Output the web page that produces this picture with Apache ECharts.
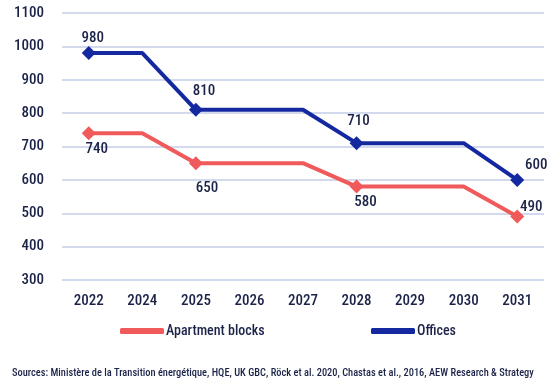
<!DOCTYPE html>
<html><head><meta charset="utf-8">
<script src="https://cdn.jsdelivr.net/npm/echarts@6/dist/echarts.min.js"></script>
<style>html,body{margin:0;padding:0;background:#fff}#c{width:560px;height:392px}</style>
</head><body><div id="c"></div>
<script>
const categories = ['2022','2024','2025','2026','2027','2028','2029','2030','2031'];
const apartments = [740,740,650,650,650,580,580,580,490];
const offices = [980,980,810,810,810,710,710,710,600];
const markedIdx = [0,2,5,8];
const yTicks = {min:300, max:1100, interval:100};
const sourceText = 'Sources: Ministère de la Transition énergétique, HQE, UK GBC, Röck et al. 2020, Chastas et al., 2016, AEW Research & Strategy';

// label offsets (layout only) relative to the marker centre, for marked points
const aptLabelOffsets = [[8,16],[11,25],[9,16],[14,-9]];
const offLabelOffsets = [[4,-15],[8,-19],[2,-22],[19,-15]];

const FONT = '"Roboto Condensed", sans-serif';
const TXT = '#1c2348';
const RED = '#f05a5a';
const BLUE = '#1428a0';
const FS = 15;
const FW = 500;

function mk(vals, offsets){
  return vals.map((v,i)=> {
    const k = markedIdx.indexOf(i);
    return k >= 0
      ? {value:v, symbol:'diamond', symbolSize:14, label:{show:true, position:'inside', offset:offsets[k]}}
      : {value:v, symbol:'none', label:{show:false}};
  });
}

const chart = echarts.init(document.getElementById('c'));
chart.setOption({
  animation:false,
  textStyle:{fontFamily:FONT},
  grid:{left:62,right:16,top:13,bottom:112},
  xAxis:{type:'category',data:categories,boundaryGap:true,
    axisLine:{show:false},axisTick:{show:false},
    axisLabel:{color:TXT,fontSize:FS,fontWeight:FW,fontFamily:FONT,margin:14}},
  yAxis:{type:'value',min:yTicks.min,max:yTicks.max,interval:yTicks.interval,
    axisLine:{show:false},axisTick:{show:false},
    splitLine:{lineStyle:{color:'#d3daee',width:2}},
    axisLabel:{color:TXT,fontSize:FS,fontWeight:FW,fontFamily:FONT,margin:18,formatter:v=>String(v)}},
  legend:[
    {data:[{name:'Apartment blocks',icon:'roundRect'}],left:115,top:319,itemWidth:44,itemHeight:6,
     textStyle:{color:TXT,fontSize:14,fontWeight:FW,fontFamily:FONT,padding:[0,0,0,-3]}},
    {data:[{name:'Offices',icon:'roundRect'}],left:366,top:319,itemWidth:44,itemHeight:6,
     textStyle:{color:TXT,fontSize:14,fontWeight:FW,fontFamily:FONT,padding:[0,0,0,-3]}}
  ],
  graphic:[{type:'text',left:12,top:368,style:{text:sourceText,fill:TXT,font:'500 10.4px '+FONT}}],
  series:[
    {name:'Apartment blocks',type:'line',color:RED,showAllSymbol:true,
     lineStyle:{width:4,color:RED},itemStyle:{color:RED},
     label:{color:TXT,fontSize:FS,fontWeight:FW,fontFamily:FONT},
     data:mk(apartments, aptLabelOffsets)},
    {name:'Offices',type:'line',color:BLUE,showAllSymbol:true,
     lineStyle:{width:4,color:BLUE},itemStyle:{color:BLUE},
     label:{color:TXT,fontSize:FS,fontWeight:FW,fontFamily:FONT},
     data:mk(offices, offLabelOffsets)}
  ]
});
</script></body></html>
